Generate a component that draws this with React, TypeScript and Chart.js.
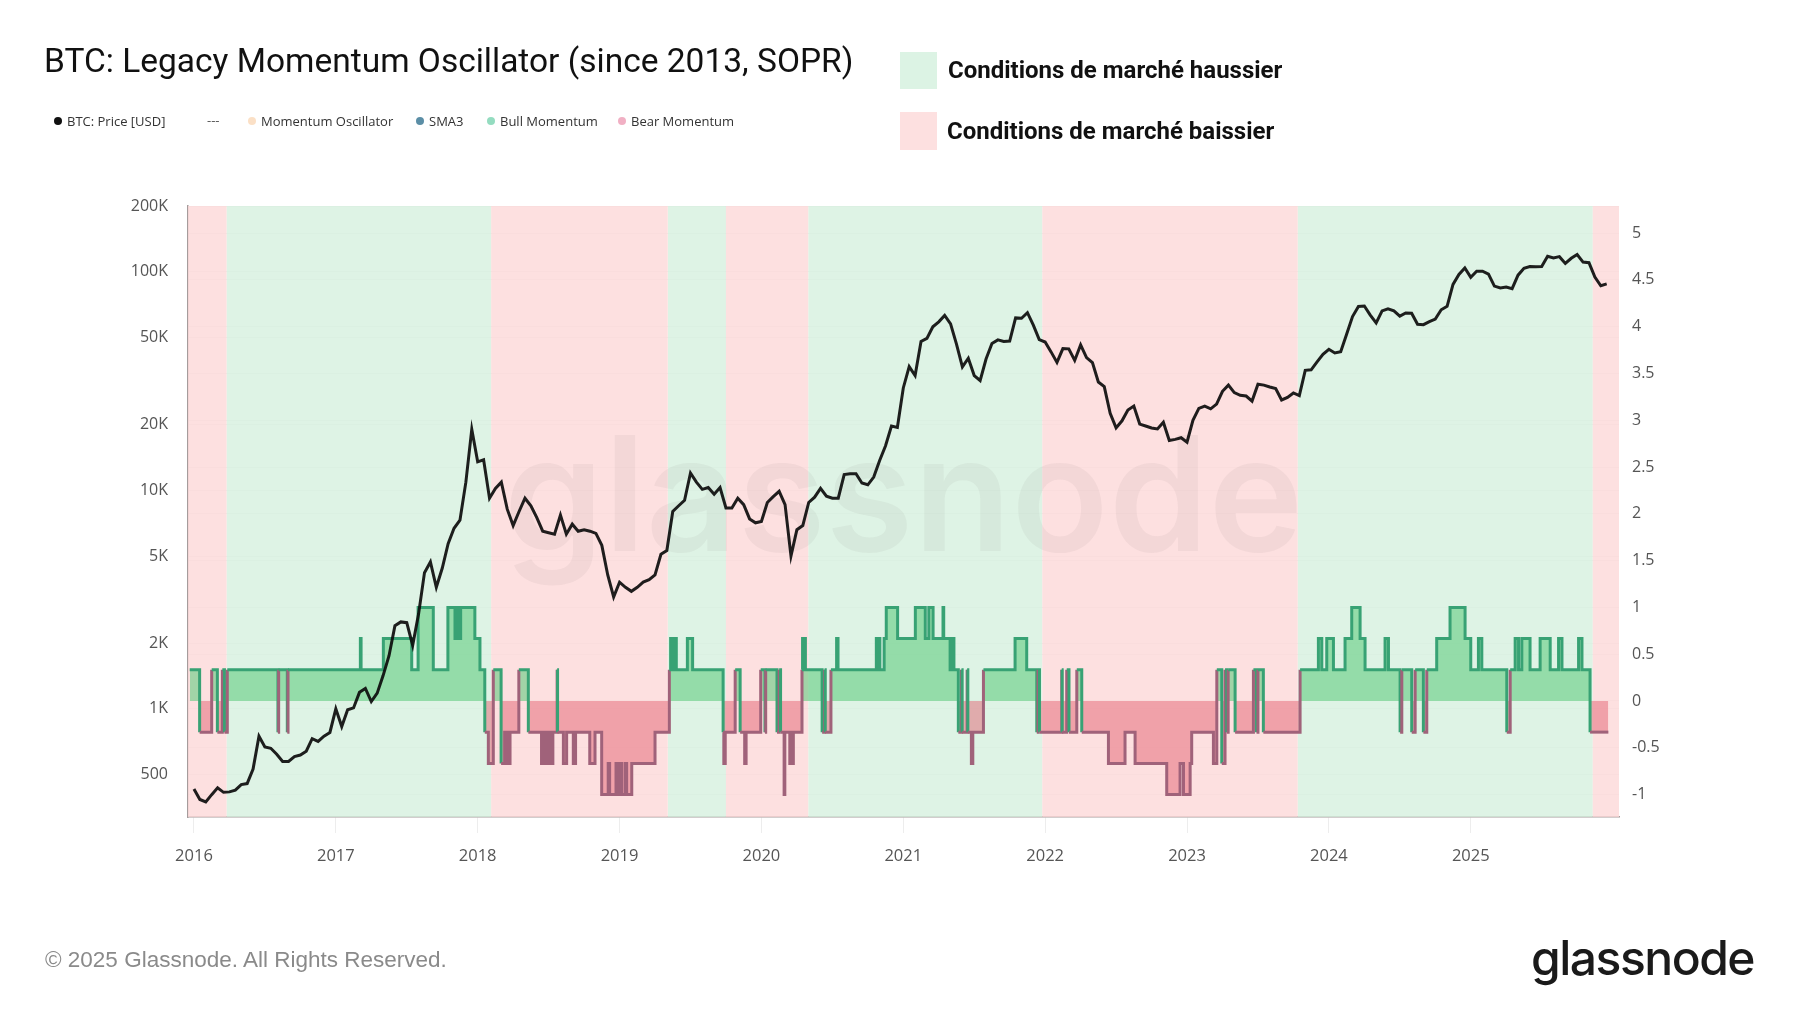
import React, { useEffect, useRef } from "react";
import { Chart, registerables } from "chart.js";

Chart.register(...registerables);

// ---------------- DATA ----------------
const priceStartYear = 2016;
const pricePointsPerYear = 24; // half-monthly samples

const btcPrice = [
  // 2016
  430, 385, 375, 405, 435, 415, 417, 425, 450, 455, 530, 750, 670, 660, 620, 575, 575, 605, 615, 640, 730, 710, 750, 780,
  // 2017
  1000, 830, 990, 1010, 1190, 1240, 1080, 1180, 1420, 1750, 2400, 2500, 2480, 1950, 2720, 4200, 4700, 3600, 4400, 5700, 6700, 7300, 10900, 19000,
  // 2018
  13500, 13800, 9200, 10200, 10900, 8200, 6900, 8000, 9200, 8500, 7500, 6500, 6400, 6300, 7700, 6300, 7000, 6500, 6600, 6500, 6350, 5600, 4100, 3250,
  // 2019
  3800, 3600, 3450, 3600, 3800, 3900, 4100, 5100, 5300, 8000, 8500, 9000, 12000, 10900, 10100, 10300, 9600, 10300, 8300, 8300, 9200, 8600, 7400, 7100,
  // 2020
  7200, 8800, 9350, 9900, 8600, 5000, 6600, 6900, 8800, 9300, 10200, 9400, 9200, 9200, 11800, 11900, 11900, 10800, 10600, 11500, 13700, 16000, 19700, 19400,
  // 2021
  29400, 36800, 33500, 48000, 49600, 56000, 59000, 63100, 57800, 46700, 36700, 40200, 33500, 31800, 39900, 47000, 48800, 48000, 48200, 61500, 61300, 65000, 57000, 48900,
  // 2022
  47700, 43000, 38500, 44500, 44400, 39300, 46300, 40500, 38400, 31300, 29800, 22500, 19300, 20800, 23300, 24300, 20100, 19700, 19300, 19100, 20500, 16900, 17100, 17400,
  // 2023
  16600, 20900, 23700, 24300, 23600, 24800, 28400, 30300, 28000, 27200, 27000, 25600, 30600, 30300, 29700, 29200, 25900, 26600, 27900, 27100, 35400, 35600, 38700, 41900,
  // 2024
  44200, 42500, 43100, 51800, 62400, 69400, 69700, 63400, 58300, 66200, 67700, 66200, 62700, 64800, 64600, 57500, 57300, 59100, 60800, 67000, 69500, 87500, 97200, 104000,
  // 2025
  94400, 100500, 100600, 97500, 86000, 84300, 85200, 83700, 96500, 103700, 105600, 105500, 105700, 117800, 115700, 117300, 109200, 115300, 120000, 110800, 110000, 94500, 86300, 88000,
];

// Momentum oscillator: change dates (decimal year) and the value held from that date
const oscDates = [
  2015.97, 2016.04, 2016.125, 2016.165, 2016.2, 2016.215, 2016.235, 2016.592, 2016.597, 2016.658, 2016.663,
  2017.173, 2017.178, 2017.335, 2017.535, 2017.58, 2017.687, 2017.79, 2017.84, 2017.85, 2017.87, 2017.88, 2017.98,
  2018.016, 2018.05, 2018.075, 2018.11, 2018.165, 2018.19, 2018.21, 2018.228, 2018.29, 2018.357, 2018.45, 2018.46,
  2018.47, 2018.48, 2018.49, 2018.5, 2018.52, 2018.53, 2018.56, 2018.563, 2018.604, 2018.627, 2018.674, 2018.69,
  2018.79, 2018.827, 2018.874, 2018.92, 2018.93, 2018.975, 2018.985, 2019.005, 2019.015, 2019.04, 2019.05, 2019.086,
  2019.25, 2019.351, 2019.36, 2019.38, 2019.39, 2019.4, 2019.478, 2019.515, 2019.73, 2019.735, 2019.745, 2019.815,
  2019.85, 2019.882, 2019.892, 2019.995, 2020.025, 2020.03, 2020.11, 2020.125, 2020.135, 2020.16, 2020.165, 2020.2,
  2020.205, 2020.22, 2020.225, 2020.286, 2020.29, 2020.31, 2020.428, 2020.445, 2020.45, 2020.49, 2020.53, 2020.54,
  2020.81, 2020.815, 2020.83, 2020.835, 2020.865, 2020.88, 2020.96, 2021.085, 2021.155, 2021.18, 2021.21, 2021.28,
  2021.285, 2021.33, 2021.34, 2021.357, 2021.388, 2021.41, 2021.415, 2021.45, 2021.455, 2021.48, 2021.49, 2021.565,
  2021.788, 2021.87, 2021.941, 2021.95, 2021.96, 2022.117, 2022.12, 2022.152, 2022.168, 2022.223, 2022.258, 2022.446,
  2022.563, 2022.634, 2022.857, 2022.951, 2022.975, 2023.022, 2023.033, 2023.186, 2023.21, 2023.245, 2023.268, 2023.28,
  2023.29, 2023.339, 2023.468, 2023.49, 2023.5, 2023.538, 2023.797, 2023.926, 2023.95, 2023.985, 2024.032, 2024.114,
  2024.161, 2024.22, 2024.255, 2024.396, 2024.42, 2024.502, 2024.514, 2024.584, 2024.608, 2024.666, 2024.69, 2024.76,
  2024.854, 2024.96, 2025.0, 2025.054, 2025.078, 2025.254, 2025.278, 2025.313, 2025.337, 2025.36, 2025.418, 2025.489,
  2025.56, 2025.619, 2025.643, 2025.76, 2025.784, 2025.841, 2025.97,
];
const oscValues = [
  0.333, -0.333, 0.333, -0.333, 0.333, -0.333, 0.333, -0.333, 0.333, -0.333, 0.333,
  0.667, 0.333, 0.667, 0.333, 1, 0.333, 1, 0.667, 1, 0.667, 1, 0.667,
  0.333, -0.333, -0.667, 0.333, -0.667, -0.333, -0.667, -0.333, 0.333, -0.333, -0.667, -0.333,
  -0.667, -0.333, -0.667, -0.333, -0.667, -0.333, 0.333, -0.333, -0.667, -0.333, -0.667, -0.333,
  -0.667, -0.333, -1, -0.667, -1, -0.667, -1, -0.667, -1, -0.667, -1, -0.667,
  -0.333, 0.333, 0.667, 0.333, 0.667, 0.333, 0.667, 0.333, -0.333, -0.667, -0.333, 0.333,
  -0.333, -0.667, -0.333, 0.333, -0.333, 0.333, -0.333, 0.333, -0.333, -1, -0.333, -0.667,
  -0.333, -0.667, -0.333, 0.333, 0.667, 0.333, -0.333, 0.333, -0.333, 0.333, 0.667, 0.333,
  0.667, 0.333, 0.667, 0.333, 0.667, 1, 0.667, 1, 0.667, 1, 0.667, 1,
  0.667, 0.333, 0.667, 0.333, -0.333, 0.333, -0.333, 0.333, -0.333, -0.667, -0.333, 0.333,
  0.667, 0.333, -0.333, 0.333, -0.333, 0.333, -0.333, 0.333, -0.333, 0.333, -0.333, -0.667,
  -0.333, -0.667, -1, -0.667, -1, -0.667, -0.333, -0.667, 0.333, -0.667, 0.333, -0.333,
  0.333, -0.333, 0.333, -0.333, 0.333, -0.333, 0.333, 0.667, 0.333, 0.667, 0.333, 0.667,
  1, 0.667, 0.333, 0.667, 0.333, -0.333, 0.333, -0.333, 0.333, -0.333, 0.333, 0.667,
  1, 0.667, 0.333, 0.667, 0.333, -0.333, 0.333, 0.667, 0.333, 0.667, 0.333, 0.667,
  0.333, 0.667, 0.333, 0.667, 0.333, -0.333, -0.333,
];

// Market regime background bands
const regimeStarts = [2015.958, 2016.23, 2018.095, 2019.34, 2019.75, 2020.33, 2021.98, 2023.78, 2025.86];
const regimeKinds = ["bear", "bull", "bear", "bull", "bear", "bull", "bear", "bull", "bear"];
const xStart = 2015.958;
const xEnd = 2026.045;

const yearTicks = [2016, 2017, 2018, 2019, 2020, 2021, 2022, 2023, 2024, 2025];
const priceTicks = [500, 1000, 2000, 5000, 10000, 20000, 50000, 100000, 200000];
const priceTickLabels = ["500", "1K", "2K", "5K", "10K", "20K", "50K", "100K", "200K"];
const oscTicks = [-1, -0.5, 0, 0.5, 1, 1.5, 2, 2.5, 3, 3.5, 4, 4.5, 5];

const legendItems = [
  { label: "BTC: Price [USD]", color: "#111111", left: 54 },
  { label: "Momentum Oscillator", color: "#fbe0c6", left: 248 },
  { label: "SMA3", color: "#5b8ea6", left: 416 },
  { label: "Bull Momentum", color: "#94dcc0", left: 487 },
  { label: "Bear Momentum", color: "#f1b0c4", left: 618 },
];

// ---------------- STYLE ----------------
const bullBand = "rgba(214,240,223,0.8)";
const bearBand = "rgba(252,216,216,0.8)";

export default function App() {
  const canvasRef = useRef<HTMLCanvasElement | null>(null);

  useEffect(() => {
    const canvas = canvasRef.current;
    if (!canvas) return;

    const priceData = btcPrice.map((v, i) => ({ x: priceStartYear + i / pricePointsPerYear, y: v }));
    const oscData = oscDates.map((d, i) => ({ x: d, y: oscValues[i] }));
    const bandData = (kind: string) => {
      const pts = regimeStarts.map((s, i) => ({ x: s, y: regimeKinds[i] === kind ? 1 : 0 }));
      pts.push({ x: xEnd, y: regimeKinds[regimeKinds.length - 1] === kind ? 1 : 0 });
      return pts;
    };

    const watermark = {
      id: "watermark",
      afterDatasetDraw(chart: any, args: any) {
        if (args.index !== 1) return;
        const { ctx, chartArea } = chart;
        ctx.save();
        ctx.font = "600 160px Inter, 'Open Sans', sans-serif";
        ctx.fillStyle = "rgba(110,100,100,0.07)";
        ctx.textAlign = "center";
        ctx.textBaseline = "alphabetic";
        ctx.fillText("glassnode", (chartArea.left + chartArea.right) / 2, chartArea.top + chartArea.height * 0.565);
        ctx.restore();
      },
    };

    const tickFont = { family: "'Open Sans', sans-serif", size: 16 };

    const chart = new Chart(canvas, {
      type: "line",
      data: {
        datasets: [
          {
            label: "bull",
            data: bandData("bull"),
            yAxisID: "yBand",
            stepped: "before",
            borderWidth: 0,
            pointRadius: 0,
            backgroundColor: bullBand,
            fill: "origin",
            order: 11,
          },
          {
            label: "bear",
            data: bandData("bear"),
            yAxisID: "yBand",
            stepped: "before",
            borderWidth: 0,
            pointRadius: 0,
            backgroundColor: bearBand,
            fill: "origin",
            order: 10,
          },
          {
            label: "Momentum Oscillator",
            data: oscData,
            yAxisID: "yOsc",
            stepped: "before",
            borderWidth: 3,
            pointRadius: 0,
            borderColor: "#38a274",
            segment: {
              borderColor: (ctx: any) => (ctx.p0.parsed.y >= 0 ? "#38a274" : "#a0627a"),
            },
            fill: { target: { value: 0 }, above: "rgba(100,205,130,0.6)", below: "rgba(228,100,115,0.5)" },
            order: 2,
          },
          {
            label: "BTC: Price [USD]",
            data: priceData,
            yAxisID: "yPrice",
            borderColor: "rgba(12,12,12,0.92)",
            borderWidth: 3,
            pointRadius: 0,
            tension: 0,
            fill: false,
            order: 1,
          },
        ],
      },
      options: {
        animation: false,
        responsive: false,
        parsing: true,
        layout: { padding: { top: 206, left: 0, right: 0, bottom: 0 } },
        plugins: { legend: { display: false }, tooltip: { enabled: false } },
        scales: {
          x: {
            type: "linear",
            min: xStart,
            max: xEnd,
            afterBuildTicks: (s: any) => {
              s.ticks = yearTicks.map((v) => ({ value: v }));
            },
            afterFit: (s: any) => {
              s.height = 196;
            },
            ticks: {
              callback: (v: any) => String(v),
              font: { family: "'Open Sans', sans-serif", size: 16.5 },
              color: "#555555",
              padding: 13,
              maxRotation: 0,
              autoSkip: false,
            },
            grid: { drawOnChartArea: false, drawTicks: true, tickLength: 16, color: "rgba(0,0,0,0.07)" },
            border: { display: true, color: "#a59c9c", width: 1.5 },
          },
          yPrice: {
            type: "logarithmic",
            position: "left",
            min: 320,
            max: 200000,
            afterBuildTicks: (s: any) => {
              s.ticks = priceTicks.map((v) => ({ value: v }));
            },
            afterFit: (s: any) => {
              s.width = 188;
            },
            ticks: {
              callback: (v: any) => {
                const i = priceTicks.indexOf(Number(v));
                return i >= 0 ? priceTickLabels[i] : "";
              },
              font: tickFont,
              color: "#555555",
              padding: 20,
              autoSkip: false,
            },
            grid: { color: "rgba(0,0,0,0.07)", drawTicks: false },
            border: { display: true, color: "#a59c9c", width: 1.5 },
          },
          yOsc: {
            type: "linear",
            position: "right",
            min: -1.24,
            max: 5.29,
            afterBuildTicks: (s: any) => {
              s.ticks = oscTicks.map((v) => ({ value: v }));
            },
            afterFit: (s: any) => {
              s.width = 181;
            },
            ticks: {
              callback: (v: any) => String(v),
              font: tickFont,
              color: "#555555",
              padding: 13,
              autoSkip: false,
            },
            grid: { color: "rgba(0,0,0,0.07)", drawTicks: false },
            border: { display: false },
          },
          yBand: {
            type: "linear",
            display: false,
            min: 0,
            max: 1,
          },
        },
      },
      plugins: [watermark],
    } as any);

    return () => chart.destroy();
  }, []);

  return (
    <div style={{ position: "absolute", left: 0, top: 0, width: 1800, height: 1013, background: "#ffffff", overflow: "hidden" }}>
      <canvas ref={canvasRef} width={1800} height={1013} style={{ position: "absolute", left: 0, top: 0, width: 1800, height: 1013 }} />
      <div
        style={{
          position: "absolute",
          left: 44,
          top: 39,
          fontFamily: "Roboto, 'Noto Sans', sans-serif",
          fontSize: 33.5,
          lineHeight: "44px",
          color: "#111",
          whiteSpace: "nowrap",
        }}
      >
        BTC: Legacy Momentum Oscillator (since 2013, SOPR)
      </div>
      {legendItems.map((it) => (
        <div
          key={it.label}
          style={{
            position: "absolute",
            left: it.left,
            top: 112,
            height: 18,
            display: "flex",
            alignItems: "center",
            fontFamily: "'Open Sans', sans-serif",
            fontSize: 13,
            color: "#333",
            whiteSpace: "nowrap",
          }}
        >
          <span style={{ width: 8, height: 8, borderRadius: 4, background: it.color, marginRight: 5, display: "inline-block" }} />
          {it.label}
        </div>
      ))}
      <div style={{ position: "absolute", left: 207, top: 111, fontFamily: "'Open Sans', sans-serif", fontSize: 13, color: "#555" }}>---</div>

      <div style={{ position: "absolute", left: 900, top: 52, width: 37, height: 37, background: "#dcf3e4" }} />
      <div
        style={{
          position: "absolute",
          left: 948,
          top: 55,
          fontFamily: "Roboto, sans-serif",
          fontWeight: 700,
          fontSize: 24,
          lineHeight: "30px",
          color: "#111",
          whiteSpace: "nowrap",
        }}
      >
        Conditions de marché haussier
      </div>
      <div style={{ position: "absolute", left: 900, top: 112, width: 37, height: 38, background: "#fde0e0" }} />
      <div
        style={{
          position: "absolute",
          left: 947,
          top: 116,
          fontFamily: "Roboto, sans-serif",
          fontWeight: 700,
          fontSize: 24,
          lineHeight: "30px",
          color: "#111",
          whiteSpace: "nowrap",
        }}
      >
        Conditions de marché baissier
      </div>

      <div
        style={{
          position: "absolute",
          left: 45,
          top: 946,
          fontFamily: "'Liberation Sans', Arial, sans-serif",
          fontSize: 22.5,
          lineHeight: "28px",
          color: "#8a8a8a",
          whiteSpace: "nowrap",
        }}
      >
        © 2025 Glassnode. All Rights Reserved.
      </div>
      <div
        style={{
          position: "absolute",
          right: 46,
          top: 929,
          fontFamily: "Inter, 'Open Sans', sans-serif",
          fontWeight: 500,
          fontSize: 48,
          lineHeight: "58px",
          letterSpacing: -1.5,
          color: "#1a1a1a",
          whiteSpace: "nowrap",
        }}
      >
        glassnode
      </div>
    </div>
  );
}
